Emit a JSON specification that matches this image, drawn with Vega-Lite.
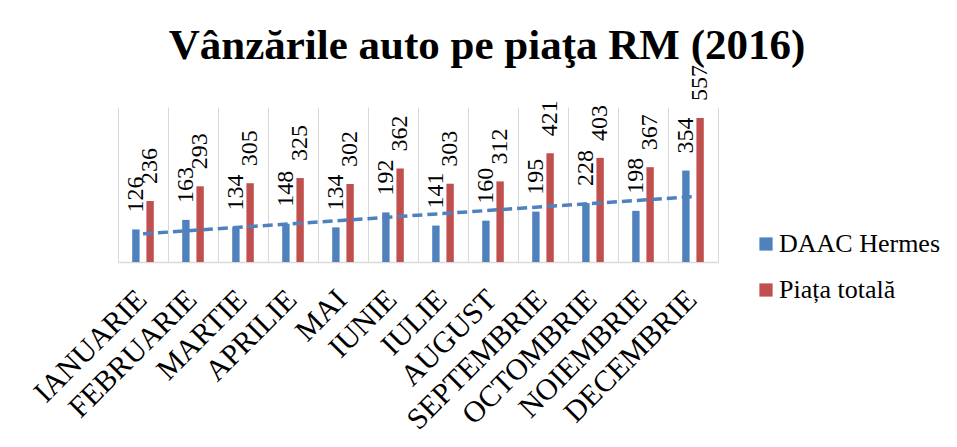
{
  "$schema": "https://vega.github.io/schema/vega-lite/v6.json",
  "autosize": "none",
  "width": 600,
  "height": 155,
  "padding": {"left": 118, "top": 107, "right": 239, "bottom": 185},
  "background": "white",
  "title": {
    "text": "Vânzările auto pe piaţa RM (2016)",
    "font": "Liberation Serif, serif",
    "fontSize": 43,
    "fontWeight": "bold",
    "color": "black",
    "anchor": "middle",
    "frame": "group",
    "baseline": "alphabetic",
    "dx": 69,
    "dy": 37,
    "offset": 0
  },
  "config": {
    "font": "Liberation Serif, serif",
    "view": {"stroke": null},
    "text": {"font": "Liberation Serif, serif"},
    "axisX": {
      "title": null,
      "domainColor": "#d9d9d9",
      "domainWidth": 1.5,
      "ticks": false,
      "grid": true,
      "gridColor": "#d9d9d9",
      "gridWidth": 1,
      "tickBand": "extent",
      "labelAngle": -45,
      "labelAlign": "right",
      "labelBaseline": "top",
      "labelPadding": 22,
      "labelOffset": -12,
      "labelFont": "Liberation Serif, serif",
      "labelFontSize": 30,
      "labelColor": "black",
      "labelOverlap": false,
      "labelBound": false,
      "labelFlush": false,
      "labelLimit": 0
    },
    "legend": {
      "orient": "none",
      "legendX": 635,
      "legendY": 124,
      "title": null,
      "symbolType": "square",
      "symbolSize": 175,
      "symbolStrokeWidth": 0,
      "labelFont": "Liberation Serif, serif",
      "labelFontSize": 26,
      "labelColor": "black",
      "rowPadding": 20,
      "labelOffset": 0,
      "padding": 0,
      "labelLimit": 0
    }
  },
  "datasets": {
    "vanzari": [
      {"luna": "IANUARIE", "serie": "DAAC Hermes", "valoare": 126},
      {"luna": "IANUARIE", "serie": "Piața totală", "valoare": 236},
      {"luna": "FEBRUARIE", "serie": "DAAC Hermes", "valoare": 163},
      {"luna": "FEBRUARIE", "serie": "Piața totală", "valoare": 293},
      {"luna": "MARTIE", "serie": "DAAC Hermes", "valoare": 134},
      {"luna": "MARTIE", "serie": "Piața totală", "valoare": 305},
      {"luna": "APRILIE", "serie": "DAAC Hermes", "valoare": 148},
      {"luna": "APRILIE", "serie": "Piața totală", "valoare": 325},
      {"luna": "MAI", "serie": "DAAC Hermes", "valoare": 134},
      {"luna": "MAI", "serie": "Piața totală", "valoare": 302},
      {"luna": "IUNIE", "serie": "DAAC Hermes", "valoare": 192},
      {"luna": "IUNIE", "serie": "Piața totală", "valoare": 362},
      {"luna": "IULIE", "serie": "DAAC Hermes", "valoare": 141},
      {"luna": "IULIE", "serie": "Piața totală", "valoare": 303},
      {"luna": "AUGUST", "serie": "DAAC Hermes", "valoare": 160},
      {"luna": "AUGUST", "serie": "Piața totală", "valoare": 312},
      {"luna": "SEPTEMBRIE", "serie": "DAAC Hermes", "valoare": 195},
      {"luna": "SEPTEMBRIE", "serie": "Piața totală", "valoare": 421},
      {"luna": "OCTOMBRIE", "serie": "DAAC Hermes", "valoare": 228},
      {"luna": "OCTOMBRIE", "serie": "Piața totală", "valoare": 403},
      {"luna": "NOIEMBRIE", "serie": "DAAC Hermes", "valoare": 198},
      {"luna": "NOIEMBRIE", "serie": "Piața totală", "valoare": 367},
      {"luna": "DECEMBRIE", "serie": "DAAC Hermes", "valoare": 354},
      {"luna": "DECEMBRIE", "serie": "Piața totală", "valoare": 557}
    ],
    "tendinta": [
      {"luna": "IANUARIE", "tendinta": 109.1},
      {"luna": "DECEMBRIE", "tendinta": 253.1}
    ]
  },
  "layer": [
    {
      "data": {"name": "vanzari"},
      "mark": {"type": "bar"},
      "encoding": {
        "x": {
          "field": "luna",
          "type": "nominal",
          "scale": {
            "domain": ["IANUARIE", "FEBRUARIE", "MARTIE", "APRILIE", "MAI", "IUNIE", "IULIE", "AUGUST", "SEPTEMBRIE", "OCTOMBRIE", "NOIEMBRIE", "DECEMBRIE"],
            "paddingInner": 0,
            "paddingOuter": 0
          }
        },
        "xOffset": {
          "field": "serie",
          "type": "nominal",
          "scale": {"domain": ["DAAC Hermes", "Piața totală"], "paddingInner": 0.48, "paddingOuter": 1.24}
        },
        "y": {
          "field": "valoare",
          "type": "quantitative",
          "scale": {"domain": [0, 600], "nice": false},
          "axis": null
        },
        "color": {
          "field": "serie",
          "type": "nominal",
          "scale": {"domain": ["DAAC Hermes", "Piața totală"], "range": ["#4f81bd", "#c0504d"]}
        }
      }
    },
    {
      "data": {"name": "vanzari"},
      "mark": {
        "type": "text",
        "angle": 270,
        "align": "left",
        "baseline": "middle",
        "dx": 17,
        "font": "Liberation Serif, serif",
        "fontSize": 24,
        "color": "black"
      },
      "encoding": {
        "x": {"field": "luna", "type": "nominal"},
        "xOffset": {"field": "serie", "type": "nominal"},
        "y": {"field": "valoare", "type": "quantitative"},
        "text": {"field": "valoare", "type": "quantitative"}
      }
    },
    {
      "data": {"name": "tendinta"},
      "mark": {
        "type": "line",
        "color": "#4f81bd",
        "strokeWidth": 3.5,
        "strokeDash": [10, 5]
      },
      "encoding": {
        "x": {"field": "luna", "type": "nominal"},
        "y": {"field": "tendinta", "type": "quantitative"}
      }
    }
  ]
}
